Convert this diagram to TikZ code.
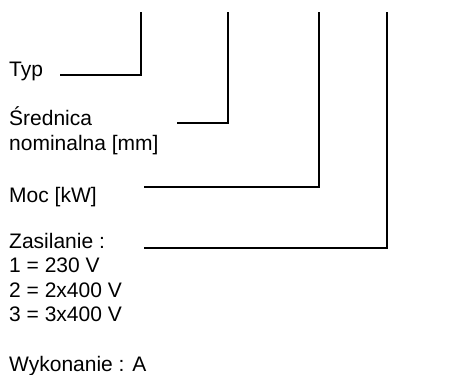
\documentclass[tikz,border=0pt]{standalone}
\usepackage{fontspec}
\setmainfont{Liberation Sans}
\begin{document}
\begin{tikzpicture}
[x=1pt,y=-1pt,
  labeltext/.style={anchor=base west,inner sep=0pt,
    font=\fontsize{21}{24}\selectfont},
  leaderline/.style={-,line width=1.3pt}]
\useasboundingbox (0,0) rectangle (454,374);
%% labels, one node per line
\foreach \name/\y/\txt in {typ/77/Typ, srednica/125/Średnica, nominalna/150/nominalna [mm],
  moc/202/Moc [kW], zasilanie/248/Zasilanie :, volt1/272/1 = 230 V, volt2/297/2 = 2x400 V,
  volt3/321/3 = 3x400 V, wykonanie/371/Wykonanie : A} {
  \node (\name) at (9,\y) [labeltext] {\txt};
}
%% line ends
\foreach \name/\xs/\xt/\y in {typ/60/141/75, srednica/177/228/123, moc/144/319/187, zasilanie/144/387/248} {
  \coordinate (\name-start) at (\xs,\y);
  \coordinate (\name-top) at (\xt,12);
}
%% leader lines
\foreach \name in {typ, srednica, moc, zasilanie} {
  \draw[leaderline] (\name-start) -| (\name-top);
}
\end{tikzpicture}
\end{document}
